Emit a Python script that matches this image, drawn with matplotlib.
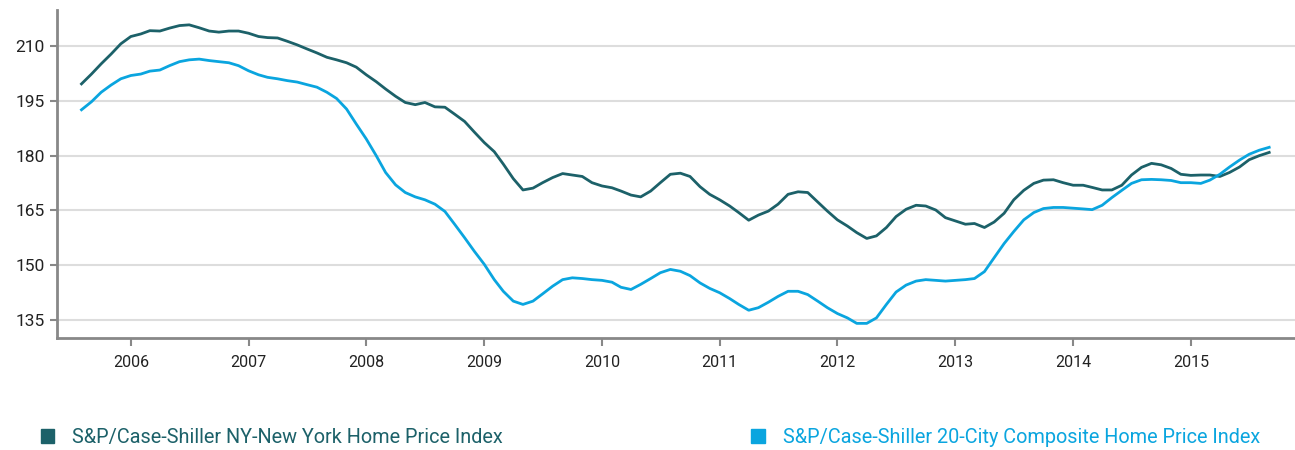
import pandas as pd
import matplotlib
matplotlib.use("Agg")
import matplotlib.pyplot as plt
import matplotlib.dates as mdates
from matplotlib.patches import Patch

months = pd.date_range("2005-08-01", "2015-09-01", freq="MS")

ny_index = [
    199.7, 202.4, 205.2, 207.9, 210.7, 212.7, 213.4, 214.3, 214.2, 215.0, 215.7, 215.9,
    215.1, 214.2, 213.9, 214.2, 214.2, 213.6, 212.7, 212.4, 212.3, 211.4, 210.4, 209.3,
    208.2, 207.0, 206.3, 205.5, 204.3, 202.2, 200.3, 198.3, 196.3, 194.6, 194.0, 194.6,
    193.4, 193.3, 191.4, 189.4, 186.5, 183.6, 181.1, 177.7, 173.7, 170.6, 171.1, 172.6,
    174.0, 175.1, 174.7, 174.3, 172.6, 171.7, 171.2, 170.3, 169.2, 168.7, 170.3, 172.6,
    174.9, 175.2, 174.3, 171.5, 169.4, 167.9, 166.2, 164.4, 162.3, 163.7, 164.8, 166.7,
    169.4, 170.1, 169.9, 167.3, 164.8, 162.4, 160.7, 158.9, 157.3, 158.0, 160.3, 163.3,
    165.3, 166.4, 166.2, 165.1, 163.0, 162.1, 161.2, 161.4, 160.3, 161.8, 164.2, 167.9,
    170.5, 172.4, 173.3, 173.4, 172.6, 171.9, 171.9, 171.3, 170.6, 170.6, 171.9, 174.7,
    176.8, 177.9, 177.5, 176.5, 174.9, 174.6, 174.7, 174.7, 174.3, 175.4, 176.9, 178.9,
    180.0, 180.9,
]

composite_index = [
    192.6, 194.8, 197.4, 199.4, 201.1, 202.0, 202.4, 203.2, 203.5, 204.7, 205.8, 206.3,
    206.5, 206.1, 205.8, 205.5, 204.7, 203.3, 202.2, 201.5, 201.1, 200.6, 200.2, 199.5,
    198.8, 197.4, 195.7, 192.8, 188.7, 184.6, 180.0, 175.4, 172.0, 169.9, 168.7, 167.9,
    166.7, 164.7, 161.2, 157.5, 153.8, 150.2, 146.0, 142.8, 140.1, 139.2, 140.1, 142.1,
    144.2, 146.0, 146.5, 146.3, 146.0, 145.8, 145.3, 143.9, 143.3, 144.7, 146.3, 147.9,
    148.8, 148.3, 147.1, 145.1, 143.6, 142.4, 140.8, 139.2, 137.6, 138.3, 139.8, 141.4,
    142.8, 142.8, 141.9, 140.1, 138.3, 136.7, 135.5, 134.0, 134.0, 135.5, 139.2, 142.6,
    144.5, 145.6, 146.0, 145.8, 145.6, 145.8, 146.0, 146.3, 148.2, 152.0, 155.9, 159.2,
    162.4, 164.4, 165.5, 165.8, 165.8, 165.6, 165.4, 165.2, 166.4, 168.5, 170.5, 172.4,
    173.4, 173.5, 173.4, 173.2, 172.6, 172.6, 172.4, 173.3, 174.9, 176.9, 178.8, 180.4,
    181.5, 182.3,
]

labels = ["S&P/Case-Shiller NY-New York Home Price Index",
          "S&P/Case-Shiller 20-City Composite Home Price Index"]
colors = ["#1c6169", "#0aa5df"]
yticks = [135, 150, 165, 180, 195, 210]

plt.rcParams["font.family"] = ["Roboto", "DejaVu Sans"]

fig = plt.figure(figsize=(12.95, 4.5), dpi=100)
ax = fig.add_axes([0.044, 0.249, 0.956, 0.729])

ax.plot(months, ny_index, color=colors[0], lw=2, zorder=3)
ax.plot(months, composite_index, color=colors[1], lw=2, zorder=3)

ax.set_ylim(130, 220)
ax.set_yticks(yticks)
ax.set_xlim(pd.Timestamp("2005-05-17"), pd.Timestamp("2015-11-20"))
ax.xaxis.set_major_locator(mdates.YearLocator())
ax.xaxis.set_major_formatter(mdates.DateFormatter("%Y"))

ax.grid(axis="y", color="#dddddd", lw=1.5)
ax.set_axisbelow(True)
for side in ["top", "right"]:
    ax.spines[side].set_visible(False)
for side in ["left", "bottom"]:
    ax.spines[side].set_color("#888888")
    ax.spines[side].set_linewidth(2)
ax.tick_params(axis="y", length=5, width=1.5, color="#888888", labelsize=12.5,
               labelcolor="#222222", pad=4)
ax.tick_params(axis="x", length=6, width=1.5, color="#888888", labelsize=11.5,
               labelcolor="#222222", pad=6)

# two separate legend entries, one bottom left, one bottom right
for handle_color, text, x0 in [(colors[0], labels[0], 0.0175), (colors[1], labels[1], 0.566)]:
    fig.legend(handles=[Patch(color=handle_color)], labels=[text],
               loc="center left", bbox_to_anchor=(x0, 0.027), frameon=False,
               handlelength=0.7, handleheight=0.7, handletextpad=0.9,
               fontsize=14.3, labelcolor=handle_color)

fig.savefig("out.png", dpi=100)
